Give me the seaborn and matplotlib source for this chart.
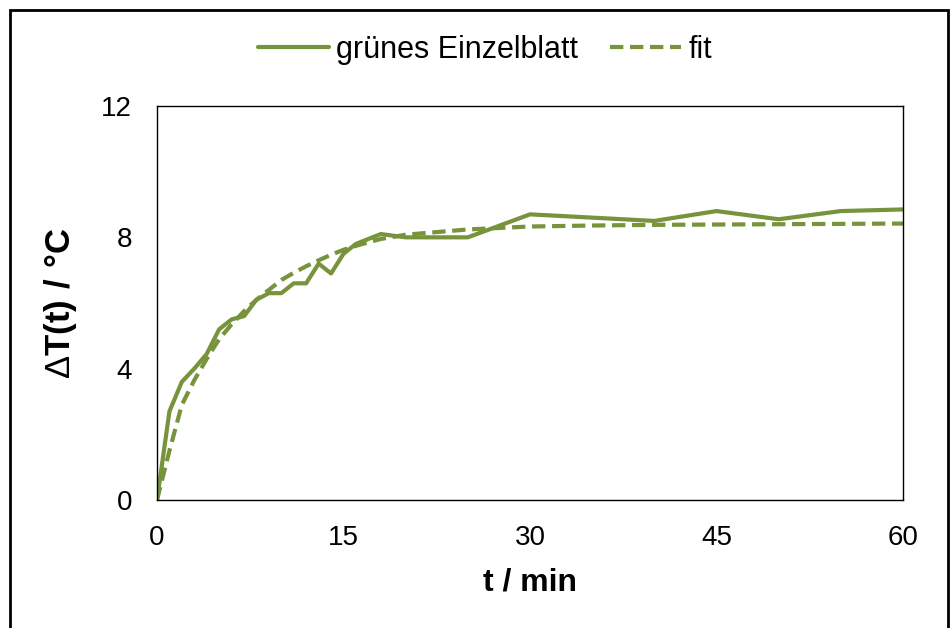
import matplotlib
matplotlib.use("Agg")
import matplotlib.pyplot as plt
import seaborn as sns
import pandas as pd
from matplotlib.patches import Rectangle

# Data
t_meas = [0, 1, 2, 3, 4, 5, 6, 7, 8, 9, 10, 11, 12, 13, 14, 15, 16, 17, 18,
          20, 25, 30, 35, 40, 45, 50, 55, 60]
dT_meas = [0.0, 2.7, 3.6, 4.0, 4.45, 5.2, 5.5, 5.6, 6.1, 6.3, 6.3, 6.6, 6.6,
           7.2, 6.9, 7.5, 7.8, 7.95, 8.1, 8.0, 8.0, 8.7, 8.6, 8.5, 8.8, 8.55,
           8.8, 8.85]
dT_fit = [0.0, 1.5, 2.9, 3.65, 4.3, 4.9, 5.35, 5.75, 6.1, 6.4, 6.7, 6.92,
          7.12, 7.3, 7.47, 7.62, 7.74, 7.85, 7.95, 8.08, 8.24, 8.33, 8.36,
          8.38, 8.39, 8.4, 8.41, 8.42]
x_ticks = [0, 15, 30, 45, 60]
y_ticks = [0, 4, 8, 12]
series_names = ["grünes Einzelblatt", "fit"]

sns.set_style("white")
plt.rcParams["font.family"] = ["Liberation Sans", "DejaVu Sans"]
plt.rcParams["mathtext.fontset"] = "custom"
plt.rcParams["mathtext.rm"] = "Liberation Sans"
plt.rcParams["mathtext.bf"] = "Liberation Sans:bold"
plt.rcParams["text.color"] = "black"
plt.rcParams["axes.labelcolor"] = "black"

green = "#77933C"

df = pd.DataFrame({"t": t_meas, "meas": dT_meas, "fit": dT_fit})

fig = plt.figure(figsize=(9.52, 6.28), dpi=100)
ax = fig.add_axes([157 / 952, 1 - 500 / 628, (903 - 157) / 952, (500 - 106) / 628])

sns.lineplot(data=df, x="t", y="meas", ax=ax, color=green, lw=3.0,
             label=series_names[0], legend=False)
sns.lineplot(data=df, x="t", y="fit", ax=ax, color=green, lw=3.0,
             linestyle=(0, (3.2, 1.6)), label=series_names[1], legend=False)

ax.set_xlim(0, 60)
ax.set_ylim(0, 12)
ax.set_xticks(x_ticks)
ax.set_yticks(y_ticks)
ax.tick_params(axis="both", direction="in", length=7, width=1, colors="black",
               labelsize=20, labelcolor="black")
ax.tick_params(axis="x", pad=18)
ax.tick_params(axis="y", pad=18)
for s in ax.spines.values():
    s.set_visible(True)
    s.set_color("black")
    s.set_linewidth(1.0)

ax.set_xlabel("t / min", fontsize=23, fontweight="bold", labelpad=12, color="black")
ax.set_ylabel(r"$\mathrm{\Delta}\mathbf{T(t)\ /\ °C}$", fontsize=25, labelpad=16,
              color="black")

handles, labels = ax.get_legend_handles_labels()
leg = fig.legend(handles, labels, loc="center", bbox_to_anchor=(485 / 952, 1 - 50 / 628),
                 ncol=2, frameon=False, fontsize=22, handlelength=2.3,
                 handletextpad=0.25, columnspacing=1.05)
for txt in leg.get_texts():
    txt.set_color("black")

fig.patches.append(Rectangle((10 / 952, -0.1), (948 - 10) / 952, (628 - 10) / 628 + 0.1,
                             transform=fig.transFigure, fill=False,
                             edgecolor="black", linewidth=2.0))

fig.savefig("out.png", dpi=100)
